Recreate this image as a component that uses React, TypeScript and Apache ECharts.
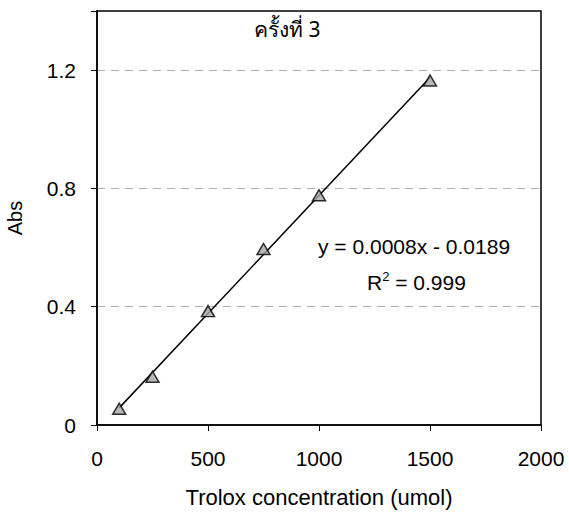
import React, { useEffect, useRef } from "react";
import * as echarts from "echarts";

const concentrations = [100, 250, 500, 750, 1000, 1500];
const absorbances = [0.055, 0.163, 0.385, 0.595, 0.777, 1.165];
const titleText = "ครั้งที่ 3";
const equationText = "y = 0.0008x - 0.0189";
const r2Text = "R{sup|2} = 0.999";

function fit(xs: number[], ys: number[]) {
  const n = xs.length;
  const mx = xs.reduce((a, b) => a + b, 0) / n;
  const my = ys.reduce((a, b) => a + b, 0) / n;
  let sxy = 0, sxx = 0;
  for (let i = 0; i < n; i++) {
    sxy += (xs[i] - mx) * (ys[i] - my);
    sxx += (xs[i] - mx) * (xs[i] - mx);
  }
  const slope = sxy / sxx;
  return { slope, intercept: my - slope * mx };
}

export default function App() {
  const ref = useRef<HTMLDivElement>(null);
  useEffect(() => {
    const chart = echarts.init(ref.current!, null, { renderer: "svg" });
    const { slope, intercept } = fit(concentrations, absorbances);
    const x0 = concentrations[0];
    const x1 = concentrations[concentrations.length - 1];
    const font = "'Liberation Sans', Arial, sans-serif";
    chart.setOption({
      animation: false,
      backgroundColor: "#ffffff",
      textStyle: { fontFamily: font },
      grid: {
        left: 97, right: 28, top: 11, bottom: 91, show: true, borderColor: "#000", borderWidth: 1.5,
        containLabel: false, outerBoundsMode: "none",
      },
      xAxis: {
        type: "value",
        min: 0,
        max: 2000,
        interval: 500,
        name: "Trolox concentration (umol)",
        nameLocation: "middle",
        nameGap: 61,
        nameTextStyle: { fontSize: 22, color: "#000", fontFamily: font },
        axisLine: { show: true, onZero: false, lineStyle: { color: "#000", width: 1.5 } },
        axisTick: { show: true, length: 6, lineStyle: { color: "#000" } },
        axisLabel: { fontSize: 21, color: "#000", margin: 23, fontFamily: font, formatter: (v: number) => String(v) },
        splitLine: { show: false },
      },
      yAxis: {
        type: "value",
        min: 0,
        max: 1.4,
        interval: 0.4,
        name: "Abs",
        nameLocation: "middle",
        nameRotate: 90,
        nameGap: 72,
        nameTextStyle: { fontSize: 20, color: "#000", fontFamily: font },
        axisLine: { show: true, lineStyle: { color: "#000", width: 1.5 } },
        axisTick: { show: true, length: 6, lineStyle: { color: "#000" } },
        axisLabel: {
          fontSize: 21, color: "#000", margin: 21, fontFamily: font,
          formatter: (v: number) => (Math.abs(v - 1.4) < 1e-6 ? "" : String(Number(v.toFixed(1)))),
        },
        splitLine: { show: true, showMinLine: false, showMaxLine: false, lineStyle: { color: "#b0b0b0", type: [8, 6], width: 1.2 } },
      },
      graphic: [
        { type: "text", left: 254, top: 18, style: { text: titleText, fill: "#000", font: `21px 'Noto Sans', ${font}` } },
        { type: "text", left: 318, top: 236, style: { text: equationText, fill: "#000", font: `21px ${font}` } },
        {
          type: "text", left: 367, top: 270,
          style: {
            text: r2Text, fill: "#000", font: `21px ${font}`,
            rich: { sup: { fontSize: 13, verticalAlign: "top", padding: [0, 0, 12, 0], fontFamily: font, fill: "#000" } },
          },
        },
      ],
      series: [
        {
          type: "line",
          data: [[x0, slope * x0 + intercept], [x1, slope * x1 + intercept]],
          symbol: "none",
          lineStyle: { color: "#000", width: 1.5 },
          silent: true,
          z: 2,
        },
        {
          type: "scatter",
          data: concentrations.map((c, i) => [c, absorbances[i]]),
          symbol: "triangle",
          symbolSize: [13, 11],
          itemStyle: { color: "#a6a6a6", borderColor: "#000", borderWidth: 1.5 },
          z: 3,
        },
      ],
    });
    return () => chart.dispose();
  }, []);
  return <div ref={ref} style={{ width: 569, height: 516, position: "absolute", left: 0, top: 0 }} />;
}
